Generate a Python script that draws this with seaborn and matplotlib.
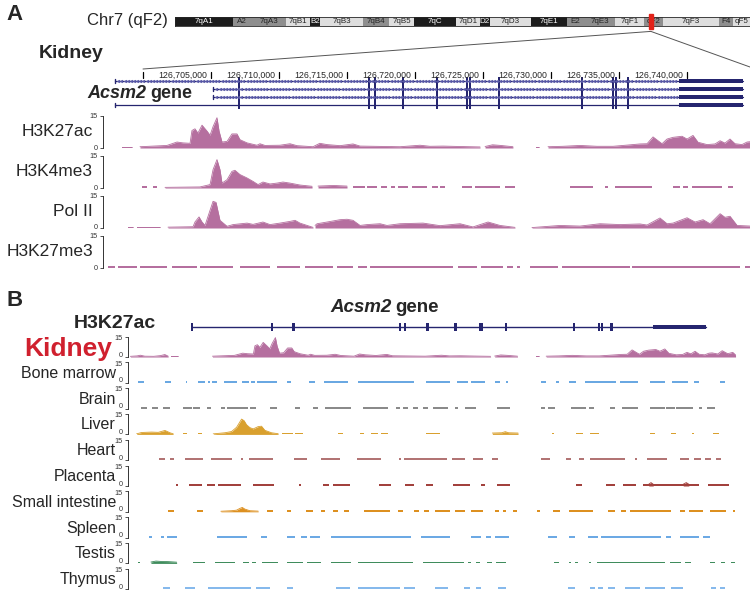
import numpy as np
import matplotlib
matplotlib.use("Agg")
import matplotlib.pyplot as plt
from matplotlib.patches import Rectangle, ConnectionPatch
import seaborn as sns

sns.set_style("ticks")
plt.rcParams["font.family"] = ["Liberation Sans", "DejaVu Sans"]

# ---------------- data (positions in kb from chr7:126,700,000) ----------------
band_names = ["7qA1", "A2", "7qA3", "7qB1", "B2", "7qB3", "7qB4", "7qB5", "7qC", "7qD1",
              "D2", "7qD3", "7qE1", "E2", "7qE3", "7qF1", "qF2", "7qF3", "F4", "qF5"]
band_edges = [0, 14.6, 19.4, 28.0, 34.0, 36.6, 47.4, 54.0, 60.3, 70.9, 76.9,
              79.4, 89.8, 98.9, 103.1, 111.0, 118.3, 123.1, 137.2, 140.7, 145.0]
band_stain = ["dark", "mid", "mid", "light", "dark", "light", "mid", "light", "dark", "light",
              "dark", "light", "dark", "mid", "mid", "light", "mid", "light", "mid", "light"]
locus_mb = 120.0

ruler_kb = [0, 5, 10, 15, 20, 25, 30, 35, 40]
tx_start = [-2.06, 5.15, 5.15, -2.06]
tx_end = 44.12
exons = [7.06, 16.62, 17.06, 19.12, 21.62, 23.82, 24.04, 26.18, 32.28, 34.56, 34.78, 35.66]
utr = (39.41, 44.12)

kidney_h3k27ac = [
    [(-7.6, 0.5), (-7.0, 0.8), (-6.7, 1.3), (-6.3, 0.6), (-5.5, 0.5), (-4.9, 1.0), (-4.5, 1.8), (-4.2, 0.6)],
    [(-3.9, 0.4), (-3.3, 0.4)],
    [(-1.54, 0.3), (-0.81, 0.3)],
    [(-0.22, 0.6), (1.76, 1.2), (2.5, 2.8), (2.94, 2.4), (3.46, 2.2), (3.6, 8.2), (3.82, 9.0), (4.04, 7.0),
     (4.34, 10.7), (4.71, 7.9), (4.93, 6.0), (5.15, 10.0), (5.44, 14.2), (5.59, 8.0), (5.81, 2.8), (6.18, 3.1),
     (6.54, 6.6), (6.91, 6.6), (7.13, 3.9), (7.65, 2.4), (8.38, 1.3), (8.6, 2.0), (8.97, 1.2), (10.07, 1.3),
     (10.81, 2.0), (11.32, 1.1), (12.5, 0.6), (13.0, 2.2), (13.53, 1.6), (14.49, 1.1), (15.44, 1.9),
     (15.96, 0.9), (18.9, 0.6), (20.37, 1.3), (21.1, 0.8), (22.06, 0.9), (23.3, 0.7), (24.78, 0.5)],
    [(25.15, 0.7), (25.7, 1.5), (26.3, 1.2), (27.2, 0.6)],
    [(28.9, 0.5), (29.1, 0.5)],
    [(29.78, 0.6), (30.88, 0.8), (32.13, 1.2), (33.38, 0.8), (34.56, 0.8), (35.66, 1.4), (36.54, 1.9),
     (37.06, 2.0), (37.5, 5.2), (38.16, 2.0), (38.53, 4.2), (38.97, 5.0), (39.63, 5.5), (40.0, 4.2),
     (40.44, 5.9), (40.81, 2.7), (41.47, 1.6), (42.06, 1.9), (42.43, 3.4), (42.79, 2.3), (43.16, 4.2),
     (43.53, 2.0), (44.04, 1.6), (44.41, 2.8), (44.7, 3.0), (45.2, 2.2), (45.6, 4.6), (46.1, 2.4),
     (46.55, 3.4), (46.8, 1.5)],
]

h3k4me3_peaks = [
    [(1.62, 0.3), (4.19, 0.5), (4.93, 1.6), (5.15, 8.6), (5.44, 13.3), (5.66, 8.6), (5.81, 2.3), (6.18, 3.9),
     (6.54, 7.8), (6.76, 8.3), (7.13, 6.3), (7.65, 4.7), (8.09, 3.1), (8.46, 1.6), (8.82, 2.8), (9.34, 1.9),
     (9.85, 2.3), (10.29, 2.8), (10.81, 2.3), (11.54, 1.4), (12.43, 0.8)],
    [(12.87, 0.9), (14.0, 1.2), (15.0, 0.9)],
]
h3k4me3_dashes = [(-0.07, 0.29), (0.74, 1.03), (15.44, 16.3), (16.5, 17.2), (17.5, 17.94), (18.2, 18.5),
                  (18.75, 19.49), (19.78, 20.88), (21.25, 21.69), (21.84, 22.21), (23.46, 24.19),
                  (24.41, 26.25), (26.62, 27.35), (31.4, 33.1), (33.97, 34.19), (34.71, 37.43),
                  (38.97, 39.49), (39.71, 40.07), (40.37, 42.57), (43.01, 43.38)]

pol2 = [
    [(-1.1, 0.3), (-0.74, 0.3)],
    [(-0.44, 0.3), (1.25, 0.3)],
    [(1.84, 0.4), (3.68, 0.6), (3.82, 2.8), (4.12, 5.2), (4.34, 2.8), (4.56, 1.2), (4.93, 8.3), (5.15, 12.5),
     (5.37, 12.0), (5.66, 3.6), (6.18, 0.8), (6.62, 1.6), (7.65, 2.3), (8.09, 1.7), (8.82, 2.8), (9.34, 1.6),
     (10.07, 2.3), (10.81, 3.1), (11.18, 3.6), (11.54, 2.3), (12.5, 0.3)],
    [(12.65, 1.2), (12.8, 2.0), (13.53, 2.8), (13.97, 3.3), (14.49, 3.9), (15.0, 4.1), (15.44, 3.6),
     (15.96, 1.2), (16.47, 1.6), (17.43, 2.0), (17.94, 1.2), (18.9, 2.0), (20.59, 2.3), (21.84, 1.1),
     (23.31, 2.0), (24.26, 0.5), (25.37, 2.8), (26.25, 1.2), (27.35, 0.3)],
    [(28.6, 0.2), (30.66, 1.2), (32.13, 0.9), (33.6, 2.0), (35.07, 1.6), (36.54, 1.9), (37.06, 1.4),
     (38.01, 4.7), (38.53, 2.0), (38.97, 2.3), (40.0, 4.8), (40.59, 2.8), (41.18, 3.9), (41.69, 2.0),
     (42.43, 6.7), (42.79, 5.0), (43.16, 5.5), (43.68, 1.2), (45.0, 0.8)],
]

h3k27me3_dashes = [(-2.57, -2.06), (-1.84, -0.44), (-0.22, 1.76), (2.13, 3.97), (4.19, 6.62), (7.13, 9.34),
                   (9.85, 11.54), (11.91, 13.97), (14.26, 15.44), (15.81, 16.47), (16.69, 22.79),
                   (23.16, 24.56), (24.85, 26.47), (26.76, 27.21), (27.5, 27.72), (28.46, 30.51),
                   (30.81, 35.81), (35.96, 43.9), (44.26, 44.63)]

bone_marrow = [(-6.89, -6.35), (-4.49, -3.95), (-2.63, -2.51), (-1.5, -0.9), (-0.6, -0.45), (-0.24, 0.15),
               (0.81, 1.95), (2.4, 3.05), (3.23, 3.59), (3.83, 5.54), (6.44, 6.83), (8.47, 8.98),
               (9.79, 11.98), (12.87, 17.9), (19.01, 21.11), (21.8, 22.75), (23.05, 24.25), (25.15, 25.6),
               (26.14, 26.35), (29.28, 29.79), (30.69, 30.9), (31.8, 32.49), (33.23, 36.08), (36.44, 38.02),
               (39.07, 40.42), (41.08, 42.57), (43.05, 43.56), (45.36, 45.87)]
brain = [(-6.65, -6.14), (-5.63, -5.15), (-4.64, -4.04), (-2.84, -2.1), (-1.95, -1.35), (-0.75, -0.36),
         (0.54, 0.9), (1.05, 2.99), (3.14, 3.74), (4.94, 5.54), (7.19, 7.63), (8.83, 9.28), (9.88, 12.22),
         (13.32, 15.57), (16.32, 16.62), (16.92, 17.37), (17.81, 18.26), (18.71, 19.16), (19.61, 20.96),
         (21.56, 21.86), (22.51, 23.5), (25.36, 26.5), (29.28, 29.64), (29.94, 30.54), (32.04, 33.38),
         (33.59, 34.07), (35.48, 35.93), (36.59, 38.02), (39.13, 40.42), (40.57, 41.32), (41.41, 42.96),
         (43.5, 43.8), (44.25, 44.97)]
liver_peaks = [
    [(-7.04, 0.4), (-6.59, 1.4), (-5.69, 1.7), (-5.09, 1.5), (-4.49, 2.9), (-4.04, 1.2), (-3.74, 0.4)],
    [(-0.15, 0.4), (0.9, 1.2), (1.5, 2.1), (1.95, 5.2), (2.4, 11.2), (2.63, 10.0), (2.84, 7.1), (3.14, 5.0),
     (3.44, 4.0), (3.89, 5.7), (4.19, 6.0), (4.49, 3.0), (5.09, 1.2), (5.69, 0.5)],
    [(24.94, 1.0), (25.8, 1.2), (26.1, 2.0), (26.4, 1.2), (27.25, 1.0)],
]
liver = [(-2.84, -2.54), (-1.5, -1.14), (5.99, 7.04), (7.19, 7.93), (11.08, 11.53), (13.02, 13.41),
         (14.07, 14.67), (14.97, 15.57), (19.01, 20.21), (30.3, 30.48), (32.49, 33.08), (33.68, 34.49),
         (39.07, 39.52), (41.02, 41.47), (42.9, 43.11), (44.76, 45.27)]
heart = [(-5.0, -4.49), (-4.04, -3.65), (-2.69, -1.05), (-0.36, 1.5), (2.34, 2.51), (3.05, 5.24), (7.13, 8.32),
         (9.52, 11.29), (12.81, 14.91), (16.53, 16.77), (17.0, 20.9), (21.32, 22.51), (23.2, 24.1),
         (24.91, 25.45), (29.34, 30.09), (31.59, 31.98), (32.69, 33.17), (33.68, 36.89), (37.72, 37.96),
         (38.86, 40.63), (41.77, 42.66), (43.11, 43.71), (44.07, 44.55), (45.06, 45.45)]
placenta = [(-3.5, -3.29), (-2.31, -1.2), (-0.75, 0.0), (0.3, 2.34), (3.44, 5.33), (7.57, 7.72), (9.73, 10.24),
            (10.63, 12.13), (14.73, 15.81), (17.13, 17.9), (19.01, 19.61), (21.41, 22.9), (23.95, 24.25),
            (25.36, 26.5), (32.49, 32.99), (35.18, 35.93), (36.68, 37.87), (38.47, 43.56), (44.31, 46.17)]
placenta_peaks = [[(39.0, 1.3), (39.2, 2.5), (39.4, 1.3)], [(42.1, 1.3), (42.37, 2.5), (42.6, 1.3)]]
small_intestine = [(-4.19, -3.65), (-1.65, -1.05), (4.64, 5.24), (6.44, 6.83), (8.23, 8.83), (9.58, 9.88),
                   (10.63, 11.08), (11.62, 12.04), (13.41, 15.72), (16.47, 16.92), (17.9, 18.32), (18.8, 19.22),
                   (19.76, 21.11), (21.56, 22.51), (23.05, 24.1), (25.15, 25.51), (25.9, 26.2), (26.8, 27.19),
                   (28.98, 29.19), (30.39, 30.99), (31.8, 33.98), (35.33, 35.93), (36.47, 36.98),
                   (37.28, 40.96), (41.77, 42.28), (42.66, 43.86), (44.46, 45.96), (46.56, 46.71)]
small_intestine_peaks = [[(0.54, 0.4), (1.5, 0.8), (1.95, 1.2), (2.25, 2.5), (2.46, 3.2), (2.69, 2.0),
                          (3.14, 0.8), (3.89, 0.5)]]
spleen = [(-5.93, -5.69), (-4.85, -4.6), (-4.3, -3.44), (0.15, 2.93), (4.13, 4.64), (6.44, 7.19), (7.78, 8.32),
          (8.53, 9.43), (10.48, 17.66), (18.56, 21.11), (22.99, 23.89), (24.4, 24.85), (25.15, 26.41),
          (29.94, 30.78), (31.86, 32.37), (33.53, 34.43), (34.73, 40.12), (40.57, 41.02), (41.77, 43.56),
          (43.86, 44.46)]
testis = [(-6.95, -6.74), (-1.95, -0.9), (0.0, 1.8), (2.54, 3.05), (3.35, 3.74), (4.19, 5.69), (6.5, 7.93),
          (8.32, 9.58), (10.42, 12.22), (12.87, 17.81), (18.71, 22.4), (22.75, 22.99), (23.5, 23.8),
          (24.49, 24.91), (25.3, 26.2), (30.48, 30.9), (31.8, 32.04), (32.34, 32.63), (33.59, 33.83),
          (34.37, 40.42), (40.87, 41.92), (42.28, 42.81), (44.46, 44.91), (45.51, 45.87), (46.35, 46.71)]
testis_peaks = [[(-5.75, 1.0), (-5.3, 1.7), (-4.8, 1.4), (-4.2, 1.3), (-3.44, 0.9)]]
thymus = [(-4.64, -4.04), (-2.69, -1.8), (-0.6, 3.29), (3.74, 4.94), (6.44, 7.04), (10.93, 12.13),
          (12.87, 16.62), (17.0, 17.96), (19.76, 20.96), (22.4, 22.9), (23.5, 23.95), (25.45, 26.2),
          (31.74, 32.34), (33.68, 34.13), (34.43, 34.88), (35.33, 35.93), (36.83, 38.17), (38.62, 40.42),
          (41.02, 42.07), (44.61, 45.06), (45.36, 45.81)]

# ---------------- layout helpers ----------------
W, H = 750, 593
NAVY = "#25256f"
KIDNEY = "#b56f9f"
stain_col = {"dark": "#1c1c1c", "mid": "#8e8e8e", "light": "#dedede"}
A_XLIM = (-2.94, 44.63)
B_XLIM = (-7.81, 48.1)

fig = plt.figure(figsize=(7.5, 5.93), dpi=100)


def box(x0, y0, x1, y1):
    return [x0 / W, 1 - y1 / H, (x1 - x0) / W, (y1 - y0) / H]


def ftext(x, y, s, **kw):
    return fig.text(x / W, 1 - y / H, s, **kw)


def track_axes(x0, top, bottom, xlim, nudge=0.0):
    ax = fig.add_axes(box(x0, top, 750, bottom))
    ax.set_xlim(*xlim)
    ax.set_ylim(0, 15)
    ax.set_yticks([0, 15])
    ax.set_yticklabels([])
    ax.set_xticks([])
    ax.tick_params(axis="y", length=2.5, width=0.6, colors="#333333")
    # scale numbers drawn by hand so the 0 / 15 of stacked tracks can be nudged apart
    for val, dy in [(0, nudge), (15, -nudge)]:
        ax.annotate(str(val), xy=(0, val), xycoords=("axes fraction", "data"),
                    xytext=(-3.6, dy), textcoords="offset points",
                    ha="right", va="center", fontsize=5.2, color="#333333")
    sns.despine(ax=ax, bottom=True)
    ax.spines["left"].set_linewidth(0.7)
    ax.spines["left"].set_color("#333333")
    ax.patch.set_alpha(0)
    return ax


def draw_profile(ax, segments, color):
    for seg in segments:
        xs = [p[0] for p in seg]
        ys = [p[1] for p in seg]
        ax.fill_between(xs, 0, ys, color=color, lw=0)
        ax.plot(xs, ys, color=color, lw=0.6)


def draw_dashes(ax, intervals, level, color):
    ax.broken_barh([(a, b - a) for a, b in intervals], (0, level), color=color, lw=0)


def gene_label(x, y, size):
    r = fig.canvas.get_renderer()
    t = ftext(x, y, "Acsm2", fontsize=size, fontweight="bold", style="italic", va="center")
    bb = t.get_window_extent(renderer=r)
    ftext(bb.x1 + 4, y, "gene", fontsize=size, fontweight="bold", va="center")


# ---------------- panel A ----------------
ftext(6, 14, "A", fontsize=16, fontweight="bold", va="center")
ftext(168, 21, "Chr7 (qF2)", fontsize=12, ha="right", va="center")

ax_id = fig.add_axes(box(175, 17, 750, 26))
for name, a, b, st in zip(band_names, band_edges[:-1], band_edges[1:], band_stain):
    ax_id.barh(0.5, b - a, left=a, height=1, color=stain_col[st], lw=0)
    ax_id.text((a + b) / 2, 0.5, name, fontsize=5.8, ha="center", va="center",
               color="white" if st == "dark" else "#222222")
ax_id.add_patch(Rectangle((locus_mb - 0.55, -0.35), 1.1, 1.7, color="#e2231a", clip_on=False, zorder=5))
ax_id.set_xlim(0, 145)
ax_id.set_ylim(0, 1)
ax_id.set_xticks([])
ax_id.set_yticks([])
for sp in ax_id.spines.values():
    sp.set_linewidth(0.6)

ftext(39, 54, "Kidney", fontsize=14, fontweight="bold", va="center")

ax_gene = fig.add_axes(box(103, 62, 750, 112))
ax_gene.set_xlim(*A_XLIM)
ax_gene.set_ylim(112, 62)
ax_gene.axis("off")
for k in ruler_kb:
    ax_gene.plot([k, k], [71.5, 78], color="black", lw=0.9)
    if k > 0:
        ax_gene.text(k - 0.3, 78.3, f"{126700000 + k * 1000:,}", fontsize=6.3, ha="right", va="baseline")
rows_y = [81, 89, 97, 105]
for i, (s, y) in enumerate(zip(tx_start, rows_y)):
    ax_gene.plot([s, tx_end], [y, y], color=NAVY, lw=0.9)
    if i < 3:
        cx = np.arange(s + 0.25, utr[0] - 0.1, 0.23)
        ax_gene.plot(cx, np.full_like(cx, y), ls="none", marker="<", ms=2.0, mew=0.4, color="#5a5aa8")
    ax_gene.plot([s, s], [y - 2, y + 2], color=NAVY, lw=1.0)
    for e in exons:
        ax_gene.add_patch(Rectangle((e - 0.08, y - 4.2), 0.16, 8.4, color=NAVY, lw=0))
    ax_gene.add_patch(Rectangle((utr[0], y - 2.4), utr[1] - utr[0], 4.8, color=NAVY, lw=0))
gene_label(87, 93, 13)

a_tracks = [("H3K27ac", 116, 148), ("H3K4me3", 156, 188), ("Pol II", 196, 228), ("H3K27me3", 236, 268)]
a_axes = []
for name, top, bot in a_tracks:
    ax = track_axes(103, top, bot, A_XLIM)
    ftext(93, (top + bot) / 2, name, fontsize=12.5, ha="right", va="center")
    a_axes.append(ax)
draw_profile(a_axes[0], kidney_h3k27ac, KIDNEY)
draw_profile(a_axes[1], h3k4me3_peaks, KIDNEY)
draw_dashes(a_axes[1], h3k4me3_dashes, 0.8, KIDNEY)
draw_profile(a_axes[2], pol2, KIDNEY)
draw_dashes(a_axes[3], h3k27me3_dashes, 0.8, KIDNEY)

for xb, yb in [(0, 69), (A_XLIM[1], 67)]:
    con = ConnectionPatch(xyA=(locus_mb, -0.6), coordsA=ax_id.transData,
                          xyB=(xb, yb), coordsB=ax_gene.transData, color="#555555", lw=0.7)
    fig.add_artist(con)

# ---------------- panel B ----------------
ftext(6, 300, "B", fontsize=16, fontweight="bold", va="center")
ftext(74, 323, "H3K27ac", fontsize=14, fontweight="bold", va="center")
gene_label(330, 307, 13.5)

ax_bg = fig.add_axes(box(128, 315, 750, 337))
ax_bg.set_xlim(*B_XLIM)
ax_bg.set_ylim(337, 315)
ax_bg.axis("off")
ax_bg.plot([tx_start[0], tx_end], [327, 327], color=NAVY, lw=1.0)
for e in [tx_start[0], tx_start[1]] + exons:
    ax_bg.add_patch(Rectangle((e - 0.1, 323), 0.2, 8, color=NAVY, lw=0))
ax_bg.add_patch(Rectangle((utr[0], 324.6), utr[1] - utr[0], 4.8, color=NAVY, lw=0))

b_tracks = [
    ("Kidney", None, kidney_h3k27ac, KIDNEY),
    ("Bone marrow", bone_marrow, None, "#6aa8e2"),
    ("Brain", brain, None, "#8a8a8a"),
    ("Liver", liver, liver_peaks, "#d9a02e"),
    ("Heart", heart, None, "#b27474"),
    ("Placenta", placenta, placenta_peaks, "#a2413d"),
    ("Small intestine", small_intestine, small_intestine_peaks, "#dd9020"),
    ("Spleen", spleen, None, "#6ca9e4"),
    ("Testis", testis, testis_peaks, "#3f8c5c"),
    ("Thymus", thymus, None, "#86b9ec"),
]
for i, (name, dashes, peaks, col) in enumerate(b_tracks):
    base = 357 + 25.8 * i
    ax = track_axes(128, base - 20.5, base, B_XLIM, nudge=1.3)
    if dashes is not None:
        draw_dashes(ax, dashes, 1.3, col)
    if peaks is not None:
        draw_profile(ax, peaks, col)
    if name == "Kidney":
        ftext(112, base - 8, name, fontsize=19, fontweight="bold", color="#d0202e", ha="right", va="center")
    else:
        ftext(116, base - 9.5, name, fontsize=11.5, ha="right", va="center")

fig.savefig("out.png", dpi=100)
